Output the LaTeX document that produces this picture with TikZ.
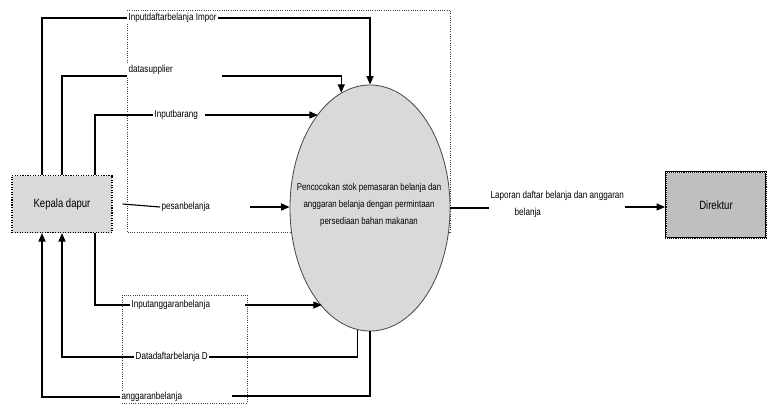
\documentclass[tikz,border=0pt]{standalone}
\usepackage{fontspec}
\setmainfont[FakeStretch=0.8]{Liberation Sans}
\usetikzlibrary{shapes.geometric,arrows.meta}
\definecolor{boxgray}{HTML}{D9D9D9}
\definecolor{dirgray}{HTML}{BFBFBF}
\tikzset{
  flow/.style={line width=0.8pt},
  arr/.style={flow,-{Triangle[length=6pt,width=5pt]}},
  lbl/.style={font=\fontsize{7.2}{8}\selectfont,inner sep=1pt,fill=white},
  extbox/.style={draw,densely dotted,line width=0.8pt,fill=boxgray,minimum width=2.5cm,minimum height=1.425cm,font=\fontsize{8.5}{10}\selectfont},
  procell/.style={ellipse,draw=black!70,line width=0.6pt,fill=boxgray,minimum width=4cm,minimum height=6.15cm,inner sep=0pt},
  proctext/.style={align=center,font=\fontsize{7}{12}\selectfont,inner sep=0pt},
  frame/.style={densely dotted,draw=black!75,line width=0.6pt}
}
\begin{document}
\begin{tikzpicture}[x=0.025cm,y=-0.025cm]
  \useasboundingbox (0,0) rectangle (769,404);
  % frames
  \draw[frame] (127,10) rectangle (450,232);
  \draw[frame] (122,295) rectangle (247,403);
  % entities and process
  \node[extbox] (kd) at (62,204) {Kepala dapur};
  \node[extbox,fill=dirgray,minimum height=1.65cm,draw=black,solid,line width=1.4pt,
        postaction={draw=white,densely dotted,line width=0.5pt}] (dir) at (716,205) {Direktur};
  \node[procell] (ell) at (370,208) {};
  \node[proctext] (elltxt) at (369,205) {Pencocokan stok pemasaran belanja dan\\anggaran belanja dengan permintaan\\persediaan bahan makanan};
  % inputs
  \node[lbl,anchor=west] (l1) at (127,18) {Inputdaftarbelanja Impor};
  \draw[flow] ([xshift=-0.5cm]kd.north) |- (l1.west);
  \draw[arr] (l1.east) -| (ell.north);
  \node[lbl,anchor=west] (l2) at (127,70) {datasupplier};
  \coordinate (l2e) at (222,76);
  \draw[flow] (kd.north) |- (127,76);
  \draw[arr] (l2e) -| (ell.104);
  \node[lbl,anchor=west] (l3) at (153,115) {Inputbarang};
  \draw[flow] ([xshift=0.825cm]kd.north) |- (l3.west);
  \draw[arr] (l3.east) ++(5,0) -- (l3.east -| ell.119);
  \node[lbl,anchor=west] (l4) at (160,207) {pesanbelanja};
  \coordinate (l4e) at (250,207);
  \draw[flow] ([xshift=0.25cm]kd.east) -- (l4.west);
  \draw[arr] (l4e) -- (l4e -| ell.west);
  \node[lbl,anchor=west] (l5) at (130,305) {Inputanggaranbelanja};
  \coordinate (l5e) at (245,305);
  \draw[flow] ([xshift=0.825cm]kd.south) |- (l5.west);
  \draw[arr] (l5e) -- (l5e -| ell.244);
  % outputs back to kepala dapur
  \node[lbl,anchor=west] (l6) at (134,357) {Datadaftarbelanja D};
  \draw[flow] (ell.264) |- (l6.east);
  \draw[arr] (l6.west) -| (kd.south);
  \node[lbl,anchor=west] (l7) at (120,397) {anggaranbelanja};
  \coordinate (l7e) at (232,396);
  \draw[flow] (ell.south) |- (l7e);
  \draw[arr] (l7.west) -| ([xshift=-0.5cm]kd.south);
  % report to direktur
  \node[lbl,fill=none,align=left,anchor=west,font=\fontsize{7.2}{12}\selectfont] (lap) at (489,204) {Laporan daftar belanja dan anggaran\\\hspace*{0.6cm}belanja};
  \coordinate (lape) at (625,207);
  \draw[flow] (ell.east) -- (ell.east -| lap.west);
  \draw[arr] (lape) -- (lape -| dir.west);
\end{tikzpicture}
\end{document}
